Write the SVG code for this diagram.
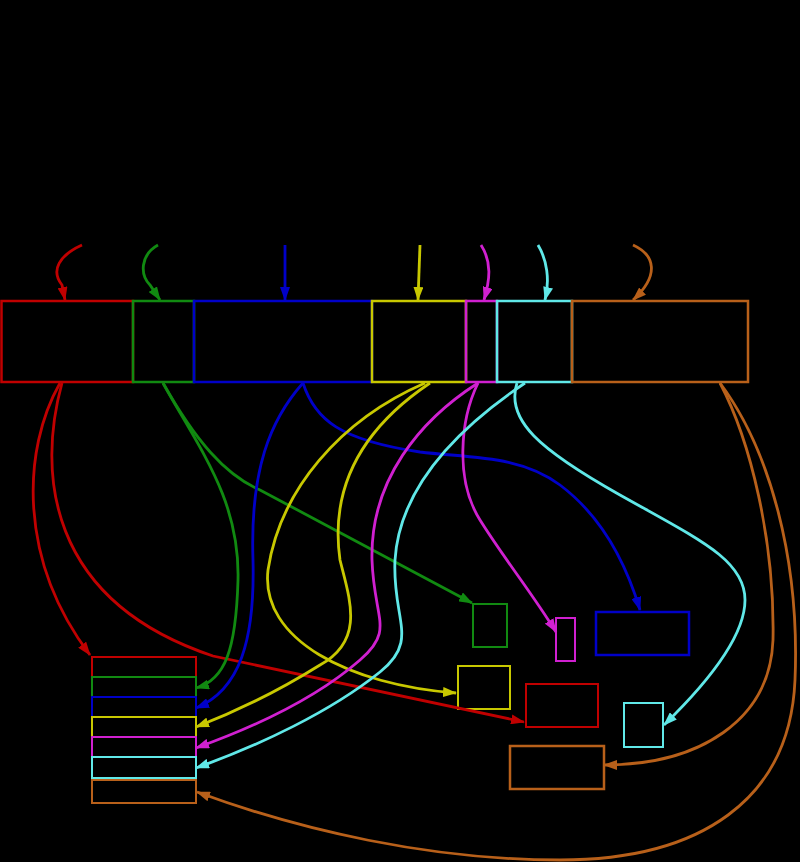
<svg xmlns="http://www.w3.org/2000/svg" width="800" height="862" viewBox="0 0 800 862">
<style>
.bx{fill:none;stroke-width:2.5}
.sb{fill:none;stroke-width:2}
.c{fill:none;stroke-width:2.8}
.r{stroke:#c00000}.g{stroke:#118a11}.b{stroke:#0000c8}.y{stroke:#c8c800}.m{stroke:#d020d0}.cy{stroke:#60e8e8}.br{stroke:#b8601a}
</style>
<defs>
<marker id="ar" markerWidth="14" markerHeight="10" refX="13" refY="5" orient="auto" markerUnits="userSpaceOnUse"><path d="M0,0L14,5L0,10z" fill="#c00000"/></marker>
<marker id="ag" markerWidth="14" markerHeight="10" refX="13" refY="5" orient="auto" markerUnits="userSpaceOnUse"><path d="M0,0L14,5L0,10z" fill="#118a11"/></marker>
<marker id="ab" markerWidth="14" markerHeight="10" refX="13" refY="5" orient="auto" markerUnits="userSpaceOnUse"><path d="M0,0L14,5L0,10z" fill="#0000c8"/></marker>
<marker id="ay" markerWidth="14" markerHeight="10" refX="13" refY="5" orient="auto" markerUnits="userSpaceOnUse"><path d="M0,0L14,5L0,10z" fill="#c8c800"/></marker>
<marker id="am" markerWidth="14" markerHeight="10" refX="13" refY="5" orient="auto" markerUnits="userSpaceOnUse"><path d="M0,0L14,5L0,10z" fill="#d020d0"/></marker>
<marker id="ac" markerWidth="14" markerHeight="10" refX="13" refY="5" orient="auto" markerUnits="userSpaceOnUse"><path d="M0,0L14,5L0,10z" fill="#60e8e8"/></marker>
<marker id="an" markerWidth="14" markerHeight="10" refX="13" refY="5" orient="auto" markerUnits="userSpaceOnUse"><path d="M0,0L14,5L0,10z" fill="#b8601a"/></marker>
</defs>
<rect x="0" y="0" width="800" height="862" fill="#000"/>

<g id="top-red"><rect class="bx r" x="1.5" y="301" width="131.5" height="81"/></g>
<g id="top-green"><rect class="bx g" x="133" y="301" width="61" height="81"/></g>
<g id="top-blue"><rect class="bx b" x="194" y="301" width="178" height="81"/></g>
<g id="top-yellow"><rect class="bx y" x="372" y="301" width="94" height="81"/></g>
<g id="top-magenta"><rect class="bx m" x="466" y="301" width="31" height="81"/></g>
<g id="top-cyan"><rect class="bx cy" x="497" y="301" width="75" height="81"/></g>
<g id="top-brown"><rect class="bx br" x="572" y="301" width="176" height="81"/></g>

<g id="stack-red"><rect class="sb r" x="92" y="657" width="104" height="20"/></g>
<g id="stack-green"><rect class="sb g" x="92" y="677" width="104" height="20"/></g>
<g id="stack-blue"><rect class="sb b" x="92" y="697" width="104" height="20"/></g>
<g id="stack-yellow"><rect class="sb y" x="92" y="717" width="104" height="20"/></g>
<g id="stack-magenta"><rect class="sb m" x="92" y="737" width="104" height="20"/></g>
<g id="stack-cyan"><rect class="sb cy" x="92" y="757" width="104" height="21"/></g>
<g id="stack-brown"><rect class="sb br" x="92" y="780" width="104" height="23"/></g>

<g id="box-green"><rect class="sb g" x="473" y="604" width="34" height="43"/></g>
<g id="box-magenta"><rect class="sb m" x="556" y="618" width="19" height="43"/></g>
<g id="box-blue"><rect class="bx b" x="596" y="612" width="93" height="43"/></g>
<g id="box-yellow"><rect class="sb y" x="458" y="666" width="52" height="43" stroke-width="3.5"/></g>
<g id="box-red"><rect class="sb r" x="526" y="684" width="72" height="43"/></g>
<g id="box-cyan"><rect class="sb cy" x="624" y="703" width="39" height="44" stroke-width="4"/></g>
<g id="box-brown"><rect class="bx br" x="510" y="746" width="94" height="43"/></g>

<g id="connectors">
<path class="c r" d="M82,245 C60,255 50,270 62,285 L65,300" marker-end="url(#ar)"/>
<path class="c g" d="M158,245 C140,255 140,275 150,285 L160,300" marker-end="url(#ag)"/>
<path class="c b" d="M285,245 L285,300" marker-end="url(#ab)"/>
<path class="c y" d="M420,245 L418,300" marker-end="url(#ay)"/>
<path class="c m" d="M481,245 C492,262 490,280 484,300" marker-end="url(#am)"/>
<path class="c cy" d="M538,245 C547,260 550,280 545,300" marker-end="url(#ac)"/>
<path class="c br" d="M633,245 C655,255 660,275 633,300" marker-end="url(#an)"/>

<path class="c r" d="M60,383 C22,450 18,560 90,655" marker-end="url(#ar)"/>
<path class="c r" d="M62,383 C38,470 45,600 213,656 L524,722" marker-end="url(#ar)"/>

<path class="c g" d="M163,383 C195,440 225,475 260,490 L472,603" marker-end="url(#ag)"/>
<path class="c g" d="M163,383 C200,450 240,500 238,580 C236,650 225,680 196,688" marker-end="url(#ag)"/>

<path class="c b" d="M303,383 C270,420 250,470 253,560 C255,640 240,690 196,708" marker-end="url(#ab)"/>
<path class="c b" d="M303,383 C315,420 340,440 420,452 C470,458 520,455 560,485 C600,515 625,560 640,610" marker-end="url(#ab)"/>

<path class="c y" d="M425,383 C340,420 280,490 268,570 C260,640 350,685 456,693" marker-end="url(#ay)"/>
<path class="c y" d="M430,383 C360,430 330,490 340,560 C350,600 365,640 320,665 C280,690 240,710 196,727" marker-end="url(#ay)"/>

<path class="c m" d="M478,383 C460,420 455,480 480,520 C505,560 530,590 556,632" marker-end="url(#am)"/>
<path class="c m" d="M478,383 C420,420 370,480 372,560 C374,620 395,630 360,660 C320,695 260,725 196,748" marker-end="url(#am)"/>

<path class="c cy" stroke-width="3.3" d="M525,383 C470,420 400,480 395,560 C392,620 420,640 380,672 C330,712 260,745 196,768" marker-end="url(#ac)"/>
<path class="c cy" stroke-width="3.3" d="M517,383 C505,420 540,450 620,495 C700,540 745,560 745,600 C745,640 700,690 664,725" marker-end="url(#ac)"/>

<path class="c br" d="M720,383 C770,450 800,560 795,680 C790,800 700,860 560,860 C430,860 300,830 197,792" marker-end="url(#an)"/>
<path class="c br" d="M720,383 C750,440 775,540 773,640 C770,720 700,765 604,765" marker-end="url(#an)"/>
</g>
</svg>
